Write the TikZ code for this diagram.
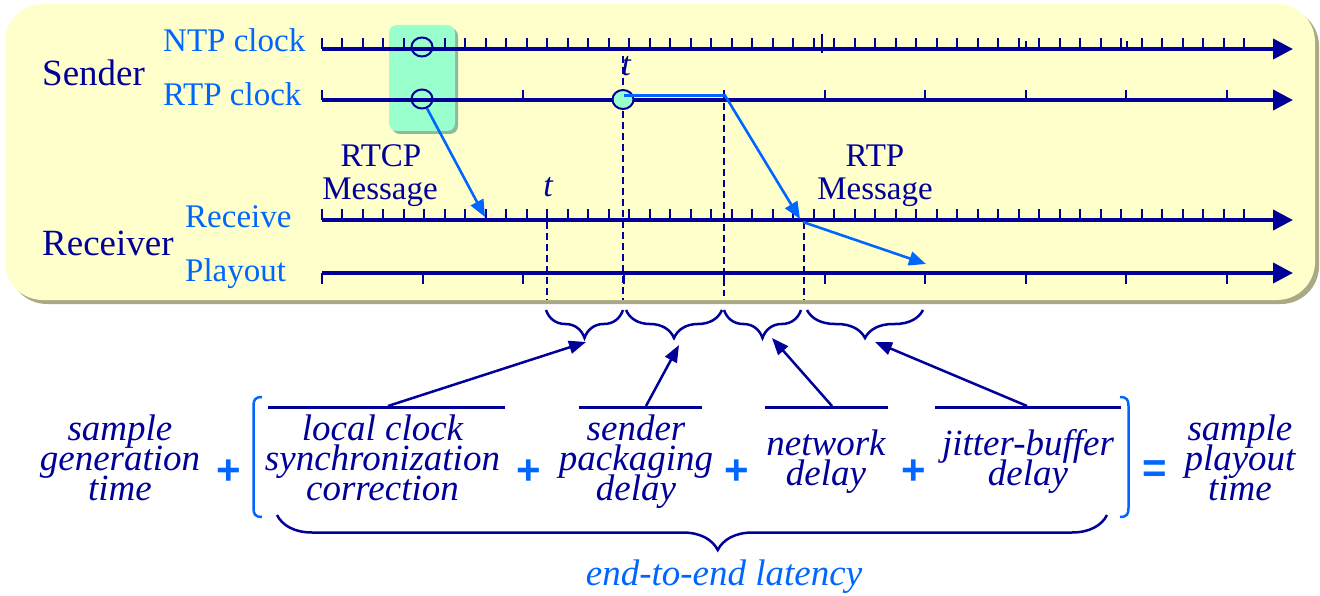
\documentclass[tikz,border=0pt]{standalone}
\usepackage{fontspec}
\setmainfont{Liberation Serif}
\newfontfamily\opfont{Liberation Sans}
\usetikzlibrary{arrows.meta,decorations.pathreplacing,shapes.geometric}
\definecolor{navy}{HTML}{000099}
\definecolor{lblue}{HTML}{0066FF}
\definecolor{pale}{HTML}{FFFFCC}
\definecolor{mint}{HTML}{99FFCC}
\definecolor{shadowc}{HTML}{A9A985}
\definecolor{gshadow}{HTML}{8FB8A0}
\newcommand\stk[1]{\vtop{\baselineskip=30pt\lineskiplimit=-100pt\halign{\hfil##\hfil\cr#1\crcr}}}
\tikzset{
  tl/.style={navy, line width=4pt, -{Triangle[length=20pt,width=20pt]}},
  tickln/.style={navy, line width=2pt},
  vdash/.style={navy, line width=2pt, dash pattern=on 7pt off 4pt},
  bluearrow/.style={lblue, line width=2.6pt, -{Triangle[length=17pt,width=14pt]}},
  navyarrow/.style={navy, line width=2.5pt, -{Triangle[length=17pt,width=13pt]}},
  brc/.style={navy, line width=2.5pt, decorate, decoration={brace, mirror, amplitude=28pt}},
  barln/.style={navy, line width=2.5pt},
  bracketln/.style={lblue, line width=2.5pt},
  lbl/.style={lblue, font=\fontsize{33}{36}\selectfont, inner sep=0, anchor=base west},
  hdr/.style={navy, font=\fontsize{37}{40}\selectfont, inner sep=0, anchor=base west},
  msg/.style={navy, font=\fontsize{33}{33}\selectfont, inner sep=0, anchor=base},
  tlab/.style={navy, font=\fontsize{34}{34}\selectfont\itshape, inner sep=0, anchor=base},
  term/.style={navy, font=\fontsize{37}{30}\selectfont\itshape, inner sep=0, anchor=base},
  op/.style={lblue, font=\fontsize{42}{42}\selectfont\opfont\bfseries, inner sep=0, anchor=base},
  ringnode/.style={ellipse, draw=navy, fill=mint, line width=2pt, minimum width=21pt, minimum height=19pt, inner sep=0}
}
\begin{document}
\begin{tikzpicture}[x=1pt,y=-1pt]
\useasboundingbox (0,0) rectangle (1320,596);
% background panels
\fill[shadowc, rounded corners=38pt] (9,8) rectangle (1319,304);
\fill[pale, rounded corners=38pt] (5,4) rectangle (1315,300);
\fill[gshadow, rounded corners=8pt] (392,28) rectangle (458,134);
\fill[mint, rounded corners=8pt] (389,25) rectangle (455,131);
% timeline end points
\coordinate (ntp0) at (322,49);  \coordinate (ntp1) at (1293,49);
\coordinate (rtp0) at (322,100); \coordinate (rtp1) at (1293,100);
\coordinate (rcv0) at (322,220); \coordinate (rcv1) at (1293,220);
\coordinate (ply0) at (322,273); \coordinate (ply1) at (1293,273);
% ticks
\foreach \k in {0,...,44} {
  \draw[tickln] ({342+20.5*\k},38) -- ({342+20.5*\k},49);
  \draw[tickln] ({342+20.5*\k},209) -- ({342+20.5*\k},220);
}
\draw[tickln] (322,38) -- (322,49);
\draw[tickln] (322,209) -- (322,220);
\draw[tickln] (822,34) -- (822,53);
\draw[tickln] (1026,41) -- (1026,49);
\draw[tickln] (1127,41) -- (1127,49);
\foreach \k in {0,...,9} {
  \draw[tickln] ({322+100.55*\k},90) -- ({322+100.55*\k},100);
  \draw[tickln] ({322+100.55*\k},273) -- ({322+100.55*\k},284);
}
% sync circles (behind the time lines)
\node[ringnode] (c1) at (422,47) {};
\node[ringnode] (c2) at (422,99) {};
% timelines
\draw[tl] (ntp0) -- (ntp1);
\draw[tl] (rtp0) -- (rtp1);
\draw[tl] (rcv0) -- (rcv1);
\draw[tl] (ply0) -- (ply1);
% dashed verticals
\draw[vdash] (547,222) -- (547,300);
\draw[vdash] (623,56) -- (623,300);
\draw[vdash] (724,92) -- (724,296);
\draw[vdash] (804,222) -- (804,300);
% sample circle
\node[ringnode] (c3) at (623,99.5) {};
% labels top
\node[hdr] (sender) at (42,86) {Sender};
\node[hdr] (receiver) at (42,255) {Receiver};
\node[lbl] (ntpl) at (163,52) {NTP clock};
\node[lbl] (rtpl) at (163,105.5) {RTP clock};
\node[lbl] (rcvl) at (185,227.3) {Receive};
\node[lbl] (plyl) at (185,281.7) {Playout};
\node[msg] (rtcpm) at (381,166.7) {RTCP};
\node[msg] (rtcpm2) at (380,199.3) {Message};
\node[msg] (rtpm) at (875,166.7) {RTP};
\node[msg] (rtpm2) at (875,199.3) {Message};
\node[tlab] (t1) at (626,76) {t};
\node[tlab] (t2) at (548,196.7) {t};
% blue message arrows
\coordinate (rtcpE) at (485,217);
\draw[bluearrow] (c2) -- (rtcpE);
\coordinate (rtpA) at (624,95.5);
\coordinate (rtpB) at (725,95.5);
\coordinate (rtpC) at (800,219);
\coordinate (rtpD) at (803,222);
\coordinate (rtpE) at (926,264);
\draw[bluearrow] (rtpA) -- (rtpB) -- (rtpC);
\draw[bluearrow] (rtpD) -- (rtpE);
% braces
\draw[brc] (546,310) -- (623,310);
\draw[brc] (626,310) -- (722,310);
\draw[brc] (724,310) -- (801,310);
\draw[brc] (807,310) -- (923,310);
\coordinate (tip1) at (586,342);
\coordinate (tip2) at (679,345);
\coordinate (tip3) at (772,338);
\coordinate (tip4) at (875,342);
% bars
\draw[barln] (268,407.5) -- (505,407.5);
\draw[barln] (579,407.5) -- (702,407.5);
\draw[barln] (765,407.5) -- (888,407.5);
\draw[barln] (935,407.5) -- (1121,407.5);
\coordinate (s1) at (388,406);
\coordinate (s2) at (646,406);
\coordinate (s3) at (832,406);
\coordinate (s4) at (1027,406);
\draw[navyarrow] (s1) -- (tip1);
\draw[navyarrow] (s2) -- (tip2);
\draw[navyarrow] (s3) -- (tip3);
\draw[navyarrow] (s4) -- (tip4);
% brackets
\draw[bracketln] (262,397) .. controls (255,397) and (253.5,400) .. (253.5,406) -- (253.5,508) .. controls (253.5,514) and (255,517) .. (262,517);
\draw[bracketln] (1120,397) .. controls (1127,397) and (1128.5,400) .. (1128.5,406) -- (1128.5,508) .. controls (1128.5,514) and (1127,517) .. (1120,517);
% big brace
\draw[navy, line width=2.5pt, decorate, decoration={brace, mirror, amplitude=35pt, aspect=0.531}] (277,515) -- (1107,515);
% equation terms
\node[term] (gen) at (120,440) {\stk{sample\cr generation\cr time}};
\node[op] (p1) at (229,484) {+};
\node[term] (lcs) at (382.5,440) {\stk{local clock\cr synchronization\cr correction}};
\node[op] (p2) at (529,484) {+};
\node[term] (spd) at (636,440) {\stk{sender\cr packaging\cr delay}};
\node[op] (p3) at (737,484) {+};
\node[term] (nd) at (826,455) {\stk{network\cr delay}};
\node[op] (p4) at (914,484) {+};
\node[term] (jb) at (1028,455) {\stk{jitter-buffer\cr delay}};
\node[op] (eq) at (1155,482) {=};
\node[term] (spt) at (1240,440) {\stk{sample\cr playout\cr time}};
\node[term, lblue] (e2e) at (724,585) {end-to-end latency};
\end{tikzpicture}
\end{document}
